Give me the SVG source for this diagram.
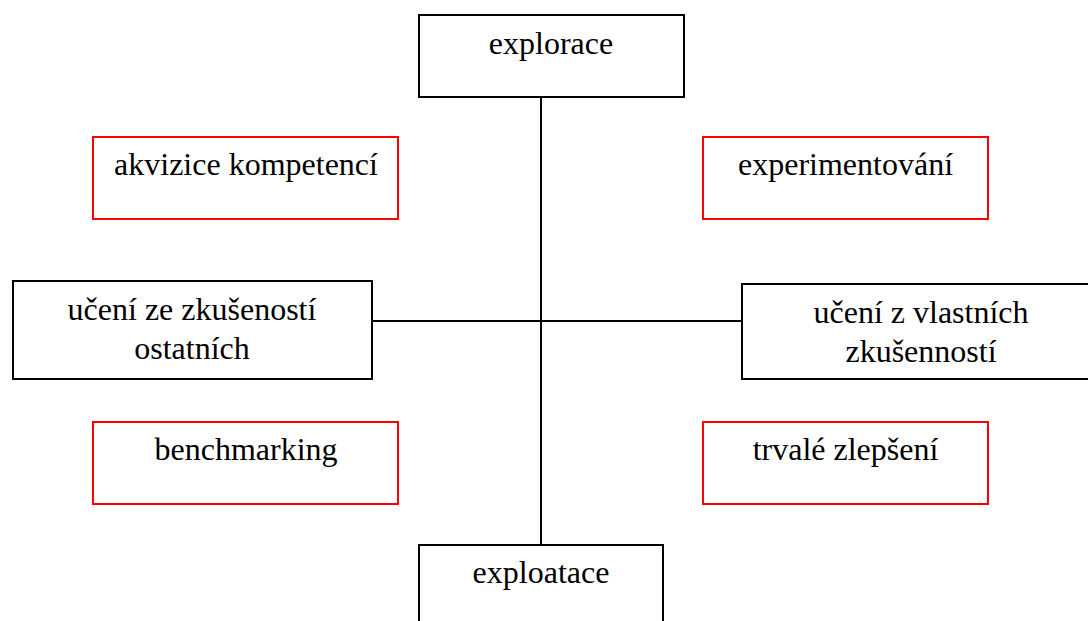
<svg xmlns="http://www.w3.org/2000/svg" width="1088" height="621" viewBox="0 0 1088 621">
  <style>
    .box { fill: #ffffff; stroke: #000000; stroke-width: 2; }
    .red { fill: #ffffff; stroke: #ff0000; stroke-width: 2; }
    .conn { stroke: #000000; stroke-width: 2; fill: none; }
    text { font-family: "Liberation Serif", "Times New Roman", serif; font-size: 32px; fill: #000000; text-anchor: middle; }
  </style>
  <rect x="0" y="0" width="1088" height="621" fill="#ffffff"/>

  <!-- axes joining the four main boxes -->
  <g id="connectors">
    <line class="conn" x1="541" y1="97" x2="541" y2="545"/>
    <line class="conn" x1="372" y1="321" x2="742" y2="321"/>
  </g>

  <g id="explorace">
    <rect class="box" x="419" y="15" width="265" height="82"/>
    <text x="551" y="54">explorace</text>
  </g>

  <g id="exploatace">
    <rect class="box" x="419" y="545" width="244" height="90"/>
    <text x="541" y="583">exploatace</text>
  </g>

  <g id="uceni-ostatnich">
    <rect class="box" x="13" y="281" width="359" height="98"/>
    <text x="192" y="320">učení ze zkušeností</text>
    <text x="192" y="359">ostatních</text>
  </g>

  <g id="uceni-vlastnich">
    <rect class="box" x="742" y="284" width="358" height="95"/>
    <text x="921" y="323">učení z vlastních</text>
    <text x="921" y="362">zkušenností</text>
  </g>

  <g id="akvizice">
    <rect class="red" x="93" y="137" width="305" height="82"/>
    <text x="246" y="175">akvizice kompetencí</text>
  </g>

  <g id="experimentovani">
    <rect class="red" x="703" y="137" width="285" height="82"/>
    <text x="845.5" y="175">experimentování</text>
  </g>

  <g id="benchmarking">
    <rect class="red" x="93" y="422" width="305" height="82"/>
    <text x="246" y="460">benchmarking</text>
  </g>

  <g id="trvale-zlepseni">
    <rect class="red" x="703" y="422" width="285" height="82"/>
    <text x="845.5" y="460">trvalé zlepšení</text>
  </g>
</svg>
